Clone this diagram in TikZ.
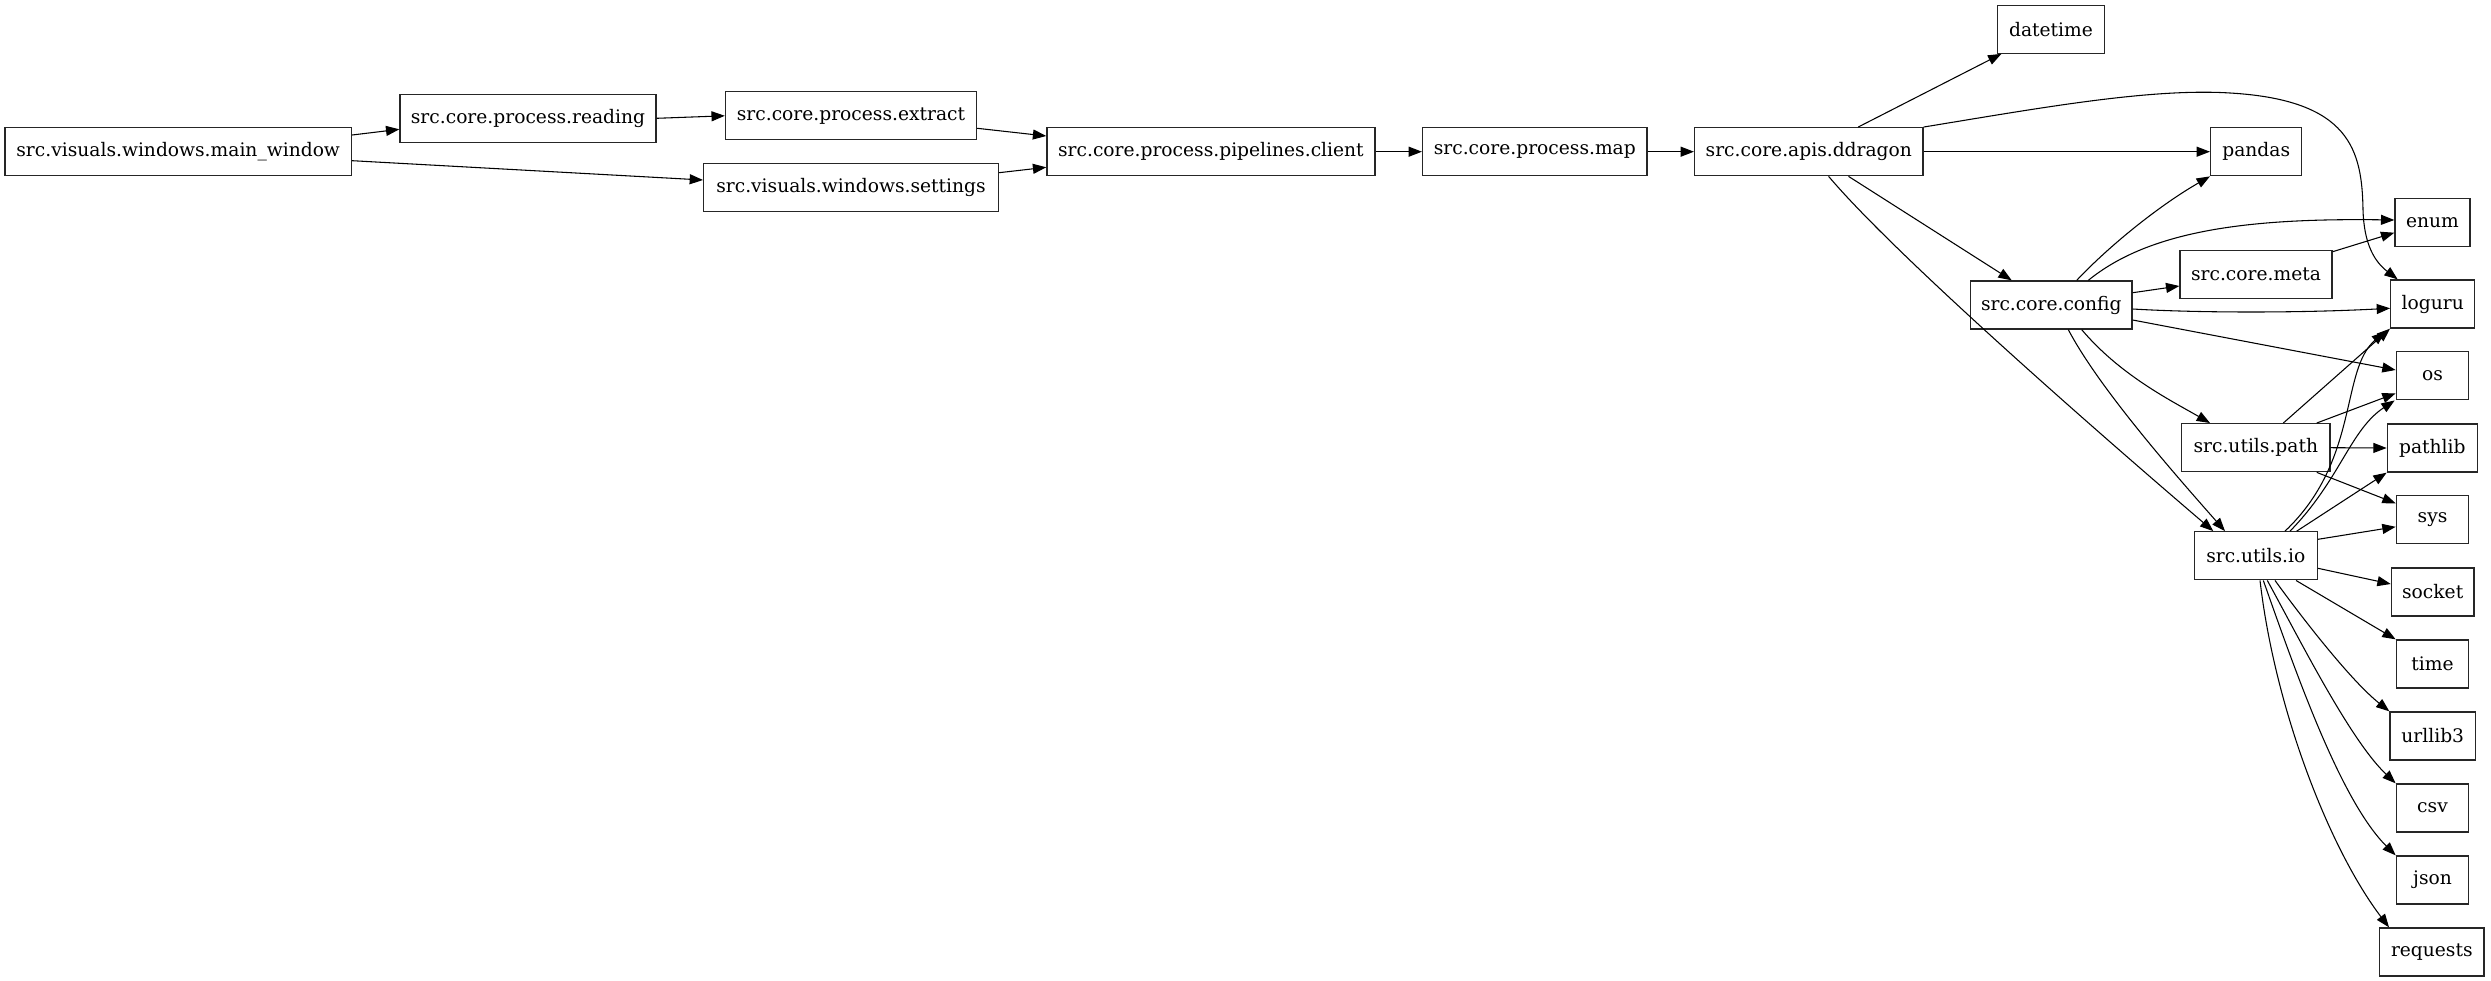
\documentclass[tikz,border=0pt]{standalone}
\usepackage{fontspec}
\setmainfont{DejaVu Serif}
\usetikzlibrary{arrows.meta,calc}
\begin{document}
\begin{tikzpicture}[x=0.75pt,y=-0.75pt,
  box/.style={draw=black!85,line width=1pt,rectangle,inner sep=0pt,minimum height=36pt,font=\fontsize{14}{16}\selectfont},
  edge/.style={line width=0.8pt,-{Triangle[length=10pt,width=7.5pt]}}]
\useasboundingbox (0,0) rectangle (2491,981);
% nodes (coordinates in px, y downward)
\node[box,minimum width=260pt] (main) at (178.2,151.7) {src.visuals.windows.main\_window};
\node[box,minimum width=192pt] (reading) at (528,118.3) {src.core.process.reading};
\node[box,minimum width=188.3pt] (extract) at (851,115.8) {src.core.process.extract};
\node[box,minimum width=221pt] (settings) at (851,187.7) {src.visuals.windows.settings};
\node[box,minimum width=246pt] (client) at (1210.9,151.7) {src.core.process.pipelines.client};
\node[box,minimum width=168.3pt] (map) at (1534.8,151.7) {src.core.process.map};
\node[box,minimum width=171.3pt] (ddragon) at (1808.8,151.7) {src.core.apis.ddragon};
\node[box,minimum width=80pt] (datetime) at (2051,29.2) {datetime};
\node[box,minimum width=68.4pt] (pandas) at (2256.2,151.7) {pandas};
\node[box,minimum width=56.3pt] (enum) at (2432.5,222.7) {enum};
\node[box,minimum width=114pt] (meta) at (2256,274.5) {src.core.meta};
\node[box,minimum width=121pt] (config) at (2051.3,305) {src.core.config};
\node[box,minimum width=63pt] (loguru) at (2432.7,304) {loguru};
\node[box,minimum width=54.3pt] (os) at (2432.5,375.8) {os};
\node[box,minimum width=111.2pt] (path) at (2255.8,447.7) {src.utils.path};
\node[box,minimum width=67.5pt] (pathlib) at (2432.3,448) {pathlib};
\node[box,minimum width=92.3pt] (io) at (2255.8,555.8) {src.utils.io};
\node[box,minimum width=54.3pt] (sys) at (2432.5,519.8) {sys};
\node[box,minimum width=62pt] (socket) at (2432.7,592) {socket};
\node[box,minimum width=54.3pt] (time) at (2432.5,664) {time};
\node[box,minimum width=64pt] (urllib3) at (2432.7,736) {urllib3};
\node[box,minimum width=54.3pt] (csv) at (2432.5,808) {csv};
\node[box,minimum width=54.3pt] (json) at (2432.5,880) {json};
\node[box,minimum width=78.2pt] (requests) at (2431.8,952) {requests};
% edges
\draw[edge] ($(main.east)+(0,-16.7)$) -- ($(reading.west)+(0,11)$);
\draw[edge] ($(main.east)+(0,9)$) -- ($(settings.west)+(0,-7.7)$);
\draw[edge] (reading.east) -- (extract.west);
\draw[edge] ($(extract.east)+(0,12.5)$) -- ($(client.west)+(0,-15.7)$);
\draw[edge] ($(settings.east)+(0,-15)$) -- ($(client.west)+(0,15.6)$);
\draw[edge] (client.east) -- (map.west);
\draw[edge] (map.east) -- (ddragon.west);
\draw[edge] ($(ddragon.north)+(49.4,0)$) -- ($(datetime.south west)+(4.4,0)$);
\draw[edge] (ddragon.north east) .. controls (2040,108) and (2150,88) .. (2230,93)
  .. controls (2350,100) and (2362,150) .. (2363,210)
  .. controls (2364,245) and (2375,262) .. ($(loguru.north west)+(7.6,0)$);
\draw[edge] (ddragon.east) -- (pandas.west);
\draw[edge] ($(ddragon.south)+(39.7,0)$) -- ($(config.north)+(-39.6,0)$);
\draw[edge] ($(ddragon.south)+(19.8,0)$) .. controls (1895,255) and (2095,430) .. ($(io.north)+(-42.5,0)$);
\draw[edge] ($(config.north)+(25.4,0)$) .. controls (2110,245) and (2160,205) .. (pandas.south west);
\draw[edge] ($(config.north)+(37,0)$) .. controls (2150,230) and (2250,218) .. ($(enum.west)+(0,-2.7)$);
\draw[edge] ($(config.east)+(0,-12.3)$) -- ($(meta.west)+(0,11.5)$);
\draw[edge] ($(config.east)+(0,4)$) .. controls (2200,313) and (2300,313) .. ($(loguru.west)+(0,4.3)$);
\draw[edge] ($(config.east)+(0,15)$) -- ($(os.west)+(0,-5.8)$);
\draw[edge] ($(config.south)+(30.4,0)$) .. controls (2120,375) and (2170,400) .. ($(path.north)+(-45.8,0)$);
\draw[edge] ($(config.south)+(17,0)$) .. controls (2100,390) and (2180,480) .. ($(io.north)+(-30.8,0)$);
\draw[edge] ($(meta.east)+(0,-22.8)$) -- ($(enum.west)+(0,10)$);
\draw[edge] ($(path.north)+(27.5,0)$) -- (loguru.south west);
\draw[edge] ($(path.north)+(60.9,0)$) -- ($(os.west)+(0,17.5)$);
\draw[edge] (path.east) -- (pathlib.west);
\draw[edge] ($(path.south)+(60.9,0)$) -- ($(sys.west)+(0,-16.5)$);
\draw[edge] ($(io.north)+(29.2,0)$) .. controls (2360,460) and (2340,370) .. ($(loguru.south west)+(-5,3)$);
\draw[edge] ($(io.north)+(34.2,0)$) .. controls (2340,480) and (2350,430) .. ($(os.south west)+(-1,0)$);
\draw[edge] ($(io.north)+(40.9,0)$) -- (pathlib.south west);
\draw[edge] ($(io.east)+(0,-16.5)$) -- ($(sys.west)+(0,7)$);
\draw[edge] ($(io.east)+(0,12.5)$) -- ($(socket.west)+(0,-8)$);
\draw[edge] ($(io.south)+(40.2,0)$) -- (time.north west);
\draw[edge] ($(io.south)+(19.2,0)$) .. controls (2300,615) and (2350,680) .. (urllib3.north west);
\draw[edge] ($(io.south)+(11.5,0)$) .. controls (2300,640) and (2350,740) .. (csv.north west);
\draw[edge] ($(io.south)+(7.5,0)$) .. controls (2295,670) and (2340,800) .. (json.north west);
\draw[edge] ($(io.south)+(4.2,0)$) .. controls (2275,710) and (2330,850) .. ($(requests.north west)+(10,0)$);
\end{tikzpicture}
\end{document}
